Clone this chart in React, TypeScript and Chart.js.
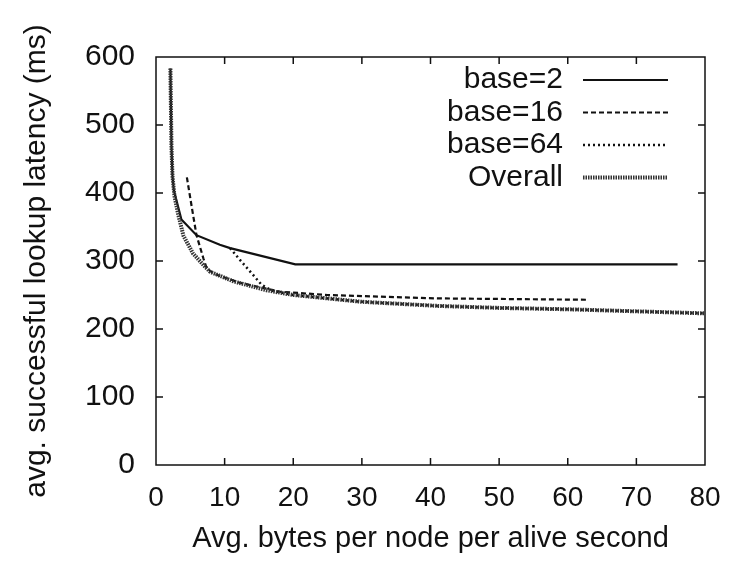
import React, { useEffect, useRef } from "react";
import { Chart, registerables } from "chart.js";

Chart.register(...registerables);

// ---- data ----
const base2X = [2.1, 2.25, 2.4, 2.6, 3.7, 5.9, 9.3, 10.8, 20.3, 76];
const base2Y = [583, 470, 425, 404, 361, 338, 324, 319, 295, 295];

const base16X = [4.5, 5.2, 5.9, 6.9, 7.4, 8.5, 12.2, 18, 25, 41, 63];
const base16Y = [423, 380, 338, 304, 289, 281, 268, 255, 250, 245, 243];

const base64X = [10.8, 12.2, 15.4, 17, 20, 30, 41, 50, 60, 70, 80];
const base64Y = [319, 302, 265, 256, 250, 240, 234, 231, 229, 226, 223];

const overallX = [2.1, 2.25, 2.4, 2.7, 3.2, 4.0, 5.4, 7.1, 7.9, 11.3, 16.1, 20, 30, 41, 50, 60, 70, 80];
const overallY = [583, 470, 425, 395, 370, 337, 311, 292, 284, 270, 257, 250, 240, 234, 231, 229, 226, 223];

const seriesLabels = ["base=2", "base=16", "base=64", "Overall"];
const xTickValues = [0, 10, 20, 30, 40, 50, 60, 70, 80];
const yTickValues = [0, 100, 200, 300, 400, 500, 600];

const xTitle = "Avg. bytes per node per alive second";
const yTitle = "avg. successful lookup latency (ms)";

const FONT = "'Liberation Sans', Arial, Helvetica, sans-serif";

function pts(xs: number[], ys: number[]) {
  return xs.map((x, i) => ({ x, y: ys[i] }));
}

const framePlugin = {
  id: "gnuFrame",
  afterDatasetsDraw(chart: any) {
    const { ctx, chartArea: a, scales } = chart;
    const tl = 7;
    ctx.save();
    ctx.strokeStyle = "#111";
    ctx.lineWidth = 1.5;
    ctx.setLineDash([]);
    ctx.beginPath();
    scales.x.ticks.forEach((t: any) => {
      const px = scales.x.getPixelForValue(t.value);
      if (px <= a.left + 1 || px >= a.right - 1) return;
      ctx.moveTo(px, a.bottom);
      ctx.lineTo(px, a.bottom - tl);
      ctx.moveTo(px, a.top);
      ctx.lineTo(px, a.top + tl);
    });
    scales.y.ticks.forEach((t: any) => {
      const py = scales.y.getPixelForValue(t.value);
      if (py <= a.top + 1 || py >= a.bottom - 1) return;
      ctx.moveTo(a.left, py);
      ctx.lineTo(a.left + tl, py);
      ctx.moveTo(a.right, py);
      ctx.lineTo(a.right - tl, py);
    });
    ctx.stroke();
    ctx.strokeRect(a.left, a.top, a.right - a.left, a.bottom - a.top);
    ctx.restore();
  },
  afterDraw(chart: any) {
    const { ctx, chartArea: a } = chart;
    // y-axis title (drawn without width limit)
    ctx.save();
    ctx.font = `30px ${FONT}`;
    ctx.fillStyle = "#111";
    ctx.textAlign = "center";
    ctx.textBaseline = "middle";
    ctx.translate(37, (a.top + a.bottom) / 2);
    ctx.rotate(-Math.PI / 2);
    ctx.fillText(yTitle, 0, 0);
    ctx.restore();

    // legend
    const textRight = 563;
    const lineStart = 583;
    const lineEnd = 668;
    const firstY = 80;
    const step = 32.5;
    ctx.save();
    ctx.font = `30px ${FONT}`;
    ctx.fillStyle = "#111";
    ctx.textAlign = "right";
    ctx.textBaseline = "middle";
    chart.data.datasets.forEach((ds: any, i: number) => {
      const y = firstY + i * step;
      ctx.fillText(ds.label, textRight, y);
      ctx.beginPath();
      ctx.strokeStyle = ds.borderColor;
      ctx.lineWidth = ds.borderWidth;
      ctx.setLineDash(ds.borderDash || []);
      ctx.moveTo(lineStart, y);
      ctx.lineTo(lineEnd, y);
      ctx.stroke();
    });
    ctx.restore();
  },
};

export default function App() {
  const ref = useRef<HTMLCanvasElement | null>(null);

  useEffect(() => {
    if (!ref.current) return;
    Chart.defaults.font.family = FONT;
    Chart.defaults.color = "#111";
    const chart = new Chart(ref.current, {
      type: "line",
      data: {
        datasets: [
          {
            label: seriesLabels[0],
            data: pts(base2X, base2Y),
            borderColor: "#111",
            borderWidth: 2.2,
            borderDash: [],
            order: 1,
          },
          {
            label: seriesLabels[1],
            data: pts(base16X, base16Y),
            borderColor: "#111",
            borderWidth: 2.2,
            borderDash: [5, 3],
            order: 2,
          },
          {
            label: seriesLabels[2],
            data: pts(base64X, base64Y),
            borderColor: "#111",
            borderWidth: 2.5,
            borderDash: [2, 3],
            order: 3,
          },
          {
            label: seriesLabels[3],
            data: pts(overallX, overallY),
            borderColor: "#333",
            borderWidth: 4,
            borderDash: [1.5, 1],
            order: 0,
          },
        ],
      },
      options: {
        animation: false,
        responsive: true,
        maintainAspectRatio: false,
        elements: { point: { radius: 0 }, line: { tension: 0 } },
        layout: { padding: { top: 57, right: 25, left: 0, bottom: 0 } },
        plugins: { legend: { display: false }, tooltip: { enabled: false } },
        scales: {
          x: {
            type: "linear",
            min: 0,
            max: 80,
            afterBuildTicks: (s: any) => {
              s.ticks = xTickValues.map((v) => ({ value: v }));
            },
            afterFit: (s: any) => {
              s.height = 102;
              s.paddingLeft = 0;
              s.paddingRight = 0;
            },
            grid: { display: false, drawTicks: false },
            border: { display: false },
            ticks: { font: { size: 28 }, padding: 16, color: "#111", maxRotation: 0 },
            title: {
              display: true,
              text: xTitle,
              font: { size: 29 },
              color: "#111",
              padding: { top: 0, bottom: 11 },
            },
          },
          y: {
            type: "linear",
            min: 0,
            max: 600,
            afterBuildTicks: (s: any) => {
              s.ticks = yTickValues.map((v) => ({ value: v }));
            },
            afterFit: (s: any) => {
              s.width = 156;
              s.paddingTop = 0;
              s.paddingBottom = 0;
            },
            grid: { display: false, drawTicks: false },
            border: { display: false },
            ticks: { font: { size: 30 }, padding: 21, color: "#111" },
            title: { display: false },
          },
        },
      },
      plugins: [framePlugin],
    } as any);
    return () => chart.destroy();
  }, []);

  return (
    <div style={{ position: "absolute", left: 0, top: 0, width: 730, height: 567, background: "#fff" }}>
      <canvas ref={ref} />
    </div>
  );
}
